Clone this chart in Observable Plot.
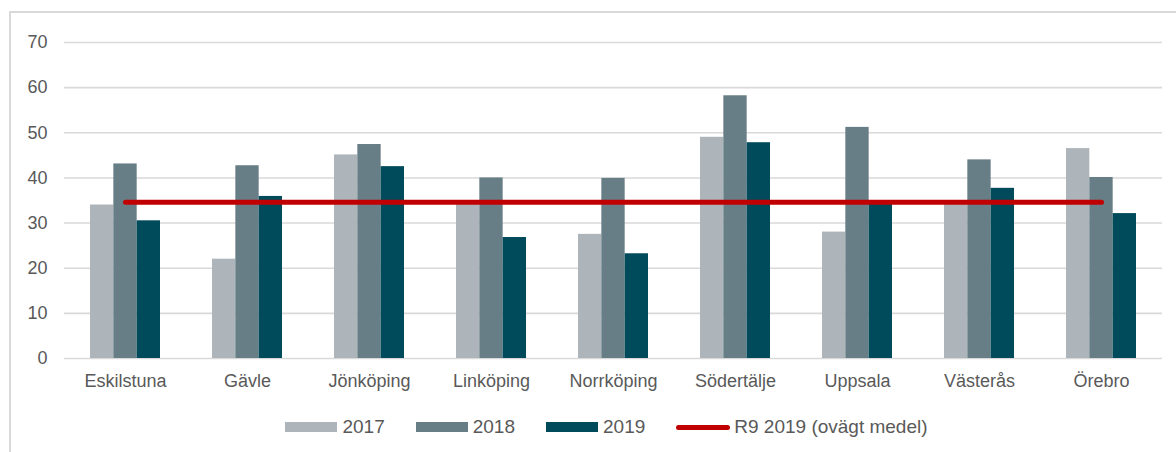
<!DOCTYPE html>
<html>
<head>
<meta charset="utf-8">
<script src="https://cdn.jsdelivr.net/npm/d3@7"></script>
<script src="https://cdn.jsdelivr.net/npm/@observablehq/plot@0.6"></script>
<style>
  html, body { margin: 0; padding: 0; background: #fff; overflow: hidden; }
  body { width: 1176px; height: 452px; position: relative; font-family: "Liberation Sans", Arial, sans-serif; }
  #frame { position: absolute; left: 9px; top: 11px; width: 1200px; height: 500px;
           border-left: 2px solid #d9d9d9; border-top: 2px solid #d9d9d9; box-sizing: border-box; }
  #chart { position: absolute; left: 0; top: 0; }
  #legend { position: absolute; left: 0; top: 417px; width: 1176px; height: 20px;
            display: flex; justify-content: center; align-items: center; padding-left: 37px; box-sizing: border-box;
            font-size: 19px; color: #595959; }
  .item { display: flex; align-items: center; margin: 0 15.5px; }
  .sw { width: 52px; height: 10px; margin-right: 5px; }
  .line { width: 54px; height: 5px; border-radius: 3px; margin-right: 4px; }
</style>
</head>
<body>
<div id="frame"></div>
<div id="chart"></div>
<div id="legend"></div>
<script>
// ---- data ----
const cities = ["Eskilstuna", "Gävle", "Jönköping", "Linköping", "Norrköping", "Södertälje", "Uppsala", "Västerås", "Örebro"];
const years = ["2017", "2018", "2019"];
const v2017 = [34.0, 22.0, 45.1, 34.5, 27.5, 49.0, 28.0, 34.4, 46.5];
const v2018 = [43.1, 42.7, 47.4, 40.0, 39.9, 58.2, 51.2, 44.0, 40.1];
const v2019 = [30.5, 35.9, 42.5, 26.8, 23.2, 47.8, 34.8, 37.7, 32.1];
const r9Mean2019 = 34.6; // R9 2019 (ovägt medel)
const yTicks = [0, 10, 20, 30, 40, 50, 60, 70];
const r9Label = "R9 2019 (ovägt medel)";

// ---- styling ----
const colors = {"2017": "#adb5bb", "2018": "#687e86", "2019": "#004b5b"};
const red = "#c00000";
const W = 1176, H = 400, mL = 64, mR = 14, mT = 42, mB = 42;
const band = (W - mL - mR) / cities.length;
const groupW = band * (70 / 122);
const barW = groupW / years.length;
const off = (band - groupW) / 2;

const series = [v2017, v2018, v2019];
const barMarks = years.map((yr, i) =>
  Plot.barY(cities.map((c, j) => ({city: c, value: series[i][j]})), {
    x: "city", y: "value", fill: colors[yr],
    insetLeft: off + i * barW,
    insetRight: band - off - (i + 1) * barW
  })
);

const chart = Plot.plot({
  width: W, height: H,
  marginLeft: mL, marginRight: mR, marginTop: mT, marginBottom: mB,
  style: {fontFamily: "Liberation Sans, Arial, sans-serif", fontSize: "18px", color: "#595959", background: "transparent"},
  x: {domain: cities, padding: 0, label: null, tickSize: 0, tickPadding: 16},
  y: {domain: [0, 70], ticks: yTicks, label: null, tickSize: 0, tickPadding: 17},
  marks: [
    Plot.ruleY(yTicks, {stroke: "#d9d9d9", strokeWidth: 1.6}),
    ...barMarks,
    Plot.lineY(cities.map(c => ({city: c, value: r9Mean2019})), {
      x: "city", y: "value", stroke: red, strokeWidth: 5, strokeLinecap: "round"
    })
  ]
});
document.getElementById("chart").appendChild(chart);

// ---- legend ----
const legend = document.getElementById("legend");
years.forEach(yr => {
  const it = document.createElement("div"); it.className = "item";
  const sw = document.createElement("div"); sw.className = "sw"; sw.style.background = colors[yr];
  const t = document.createElement("span"); t.textContent = yr;
  it.appendChild(sw); it.appendChild(t); legend.appendChild(it);
});
{
  const it = document.createElement("div"); it.className = "item";
  const sw = document.createElement("div"); sw.className = "line"; sw.style.background = red;
  const t = document.createElement("span"); t.textContent = r9Label;
  it.appendChild(sw); it.appendChild(t); legend.appendChild(it);
}
</script>
</body>
</html>
